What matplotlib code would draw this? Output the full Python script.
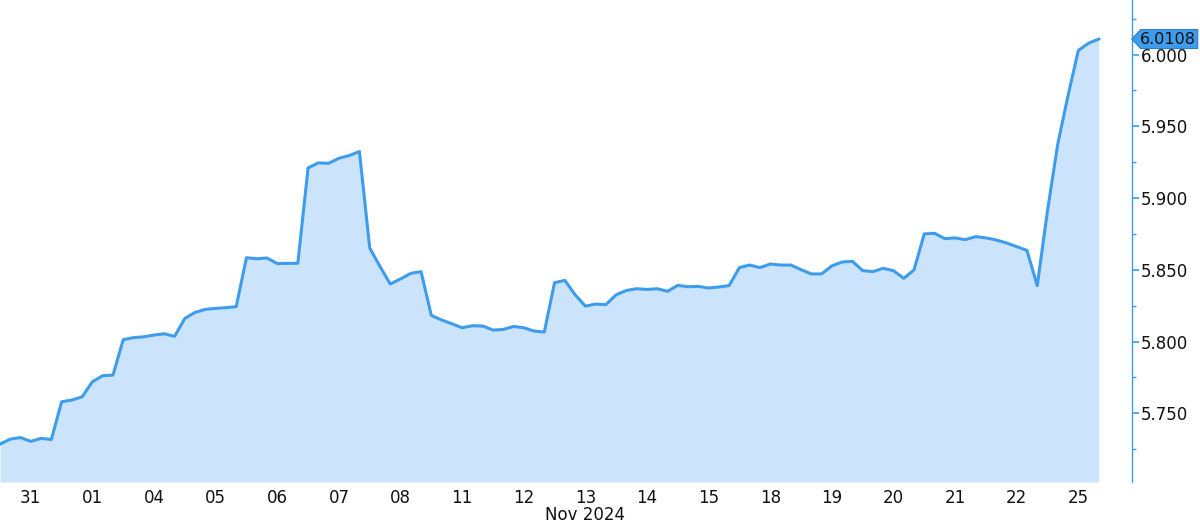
import matplotlib
matplotlib.use("Agg")
import matplotlib.pyplot as plt
from matplotlib.patches import Polygon
from matplotlib.ticker import MultipleLocator, FixedLocator, NullLocator
import numpy as np

# 4-hour bars, 6 per trading day
values = [
    5.7285, 5.7320, 5.7331, 5.7304, 5.7325, 5.7317,   # 31
    5.7580, 5.7592, 5.7615, 5.7720, 5.7762, 5.7766,   # 01
    5.8013, 5.8027, 5.8033, 5.8045, 5.8054, 5.8036,   # 04
    5.8161, 5.8203, 5.8224, 5.8231, 5.8236, 5.8243,   # 05
    5.8584, 5.8577, 5.8582, 5.8543, 5.8545, 5.8545,   # 06
    5.9210, 5.9245, 5.9242, 5.9277, 5.9296, 5.9324,   # 07
    5.8652, 5.8523, 5.8401, 5.8436, 5.8475, 5.8487,   # 08
    5.8182, 5.8150, 5.8124, 5.8096, 5.8110, 5.8108,   # 11
    5.8080, 5.8084, 5.8105, 5.8096, 5.8073, 5.8066,   # 12
    5.8410, 5.8426, 5.8326, 5.8247, 5.8261, 5.8257,   # 13
    5.8326, 5.8356, 5.8368, 5.8363, 5.8368, 5.8350,   # 14
    5.8391, 5.8382, 5.8384, 5.8373, 5.8380, 5.8390,   # 15
    5.8515, 5.8533, 5.8515, 5.8540, 5.8533, 5.8533,   # 18
    5.8501, 5.8471, 5.8471, 5.8527, 5.8554, 5.8559,   # 19
    5.8494, 5.8487, 5.8510, 5.8494, 5.8440, 5.8499,   # 20
    5.8750, 5.8754, 5.8717, 5.8722, 5.8710, 5.8731,   # 21
    5.8722, 5.8708, 5.8687, 5.8661, 5.8635, 5.8389,   # 22
    5.8912, 5.9377, 5.9714, 6.0028, 6.0079, 6.0108,   # 25
]
day_labels = ["31", "01", "04", "05", "06", "07", "08", "11", "12", "13",
              "14", "15", "18", "19", "20", "21", "22", "25"]
month_label = "Nov 2024"
month_label_day = "13"
last_value_text = "6.0108"
y_major = [5.750, 5.800, 5.850, 5.900, 5.950, 6.000]

line_color = "#3e9cec"
fill_color = "#cce4fb"

fig = plt.figure(figsize=(12, 5.28), dpi=100)
ax = fig.add_axes([0.0, 0.0871, 0.9431, 0.9129])

x = np.arange(len(values))
ymin, ymax = 5.7021, 6.0380
ax.fill_between(x, values, ymin, color=fill_color, linewidth=0, zorder=1)
ax.plot(x, values, color=line_color, linewidth=2.2, solid_joinstyle="round", zorder=2)

ax.set_xlim(0, 110.2)
ax.set_ylim(ymin, ymax)

for s in ["left", "top", "bottom"]:
    ax.spines[s].set_visible(False)
ax.spines["right"].set_color(line_color)
ax.spines["right"].set_linewidth(1.0)

ax.yaxis.tick_right()
ax.yaxis.set_major_locator(FixedLocator(y_major))
ax.yaxis.set_minor_locator(MultipleLocator(0.025))
ax.set_yticklabels([f"{v:.3f}" for v in y_major])
ax.tick_params(axis="y", which="major", length=5, width=1.2, color=line_color,
               pad=1.5, labelsize=12, labelcolor="#111111", direction="out")
ax.tick_params(axis="y", which="minor", length=3, width=1.0, color=line_color,
               direction="out")

tick_pos = [6 * k + 3 for k in range(len(day_labels))]
ax.xaxis.set_major_locator(FixedLocator(tick_pos))
ax.xaxis.set_minor_locator(NullLocator())
ax.set_xticklabels(day_labels)
ax.tick_params(axis="x", length=0, pad=5, labelsize=12, labelcolor="#111111")

mx = tick_pos[day_labels.index(month_label_day)]
ax.text(mx, -0.068, month_label, transform=ax.get_xaxis_transform(),
        ha="center", va="center", fontsize=12, color="#111111")

# last value tag on the right axis
fig.canvas.draw()
ax_x_disp = ax.transAxes.transform((1.0, 0.0))[0]
y_disp = ax.transData.transform((0, values[-1]))[1]
h = 9.5
poly = Polygon([(ax_x_disp, y_disp), (ax_x_disp + 9, y_disp + h),
                (ax_x_disp + 66, y_disp + h), (ax_x_disp + 66, y_disp - h),
                (ax_x_disp + 9, y_disp - h)], closed=True,
               facecolor=line_color, edgecolor="#2f7fc8", linewidth=0.8,
               transform=None, zorder=5, clip_on=False)
fig.patches.append(poly)
fig.text((ax_x_disp + 8) / fig.bbox.width, y_disp / fig.bbox.height, last_value_text,
         ha="left", va="center", fontsize=11.5, color="#111111", zorder=6)

fig.savefig("out.png", dpi=100)
